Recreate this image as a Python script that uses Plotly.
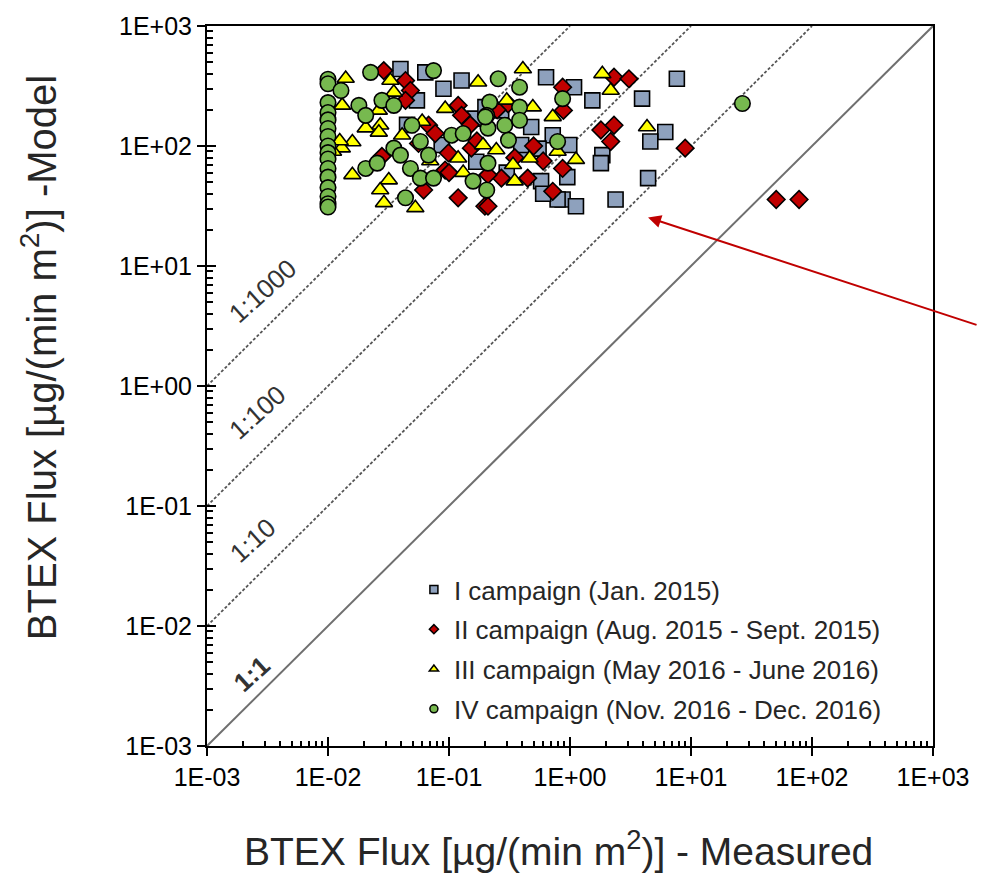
import plotly.graph_objects as go

# ---------------- data ----------------
camp1_x = [0.0397, 0.0637, 0.0543, 0.09, 0.127, 0.164, 0.087, 0.634, 1.08, 1.53,
           3.94, 7.64, 0.478, 1.85, 1.8, 6.13, 4.61, 4.42, 2.38, 0.72,
           0.986, 0.577, 0.869, 1.12, 0.79, 0.421, 0.2, 0.27, 0.168, 0.395,
           0.045, 0.3, 0.55, 0.6, 0.95]
camp1_y = [438, 411, 240, 300, 351, 169, 102, 374, 309, 240,
           248, 363, 144, 84, 72, 131, 109, 54, 35.8, 123,
           102, 51, 35.8, 31.5, 35.8, 90, 211, 198, 74, 102,
           150, 60, 95, 40, 55]

camp2_x = [0.0289, 0.0437, 0.048, 0.0437, 0.0279, 0.0617, 0.0929, 0.119, 0.198, 0.0678,
           0.0769, 0.119, 0.127, 0.153, 0.1, 2.31, 3.07, 0.869, 0.882, 1.8,
           2.31, 2.17, 8.95, 0.869, 0.72, 0.447, 0.271, 0.21, 0.21, 50.6,
           78.2, 0.308, 0.099, 0.056, 0.15, 0.35, 0.17, 0.5, 0.6, 0.25]
camp2_y = [425, 351, 290, 240, 82, 43, 63, 37, 31.5, 149,
           127, 218, 180, 96, 60, 374, 363, 309, 198, 136,
           149, 109, 96, 65, 41.9, 54, 54, 57.5, 31.5, 35.8,
           35.8, 225, 87.5, 105, 150, 80, 110, 100, 75, 200]

camp3_x = [0.014, 0.0328, 0.0131, 0.0263, 0.027, 0.0205, 0.0159, 0.013, 0.0125, 0.0263,
           0.0159, 0.041, 0.0318, 0.027, 0.029, 0.0527, 0.174, 0.119, 0.191, 0.131,
           0.408, 1.85, 2.17, 0.493, 0.72, 4.33, 0.79, 1.12, 0.349, 0.463,
           0.338, 0.246, 0.093, 0.035, 0.06, 0.3, 0.011, 0.07]
camp3_y = [365, 351, 218, 198, 149, 141, 108, 96, 110, 130,
           57.5, 123, 52, 43, 33.6, 30.5, 340, 79, 102, 60,
           438, 399, 290, 211, 175, 144, 90, 77, 51, 79,
           69.7, 92.7, 205, 280, 160, 240, 90, 75]

camp4_x = [0.01, 0.01, 0.01, 0.01, 0.01, 0.01, 0.01, 0.01, 0.01, 0.01,
           0.01, 0.01, 0.01, 0.01, 0.01, 0.01,
           0.0128, 0.018, 0.0205, 0.0279, 0.035, 0.0225, 0.0745, 0.0205, 0.0255, 0.035,
           0.0397, 0.0494, 0.058, 0.0678, 0.0437, 0.048, 0.058, 0.0745, 0.105, 0.131,
           0.217, 0.205, 0.21, 0.21, 0.158, 0.205, 0.255, 0.869, 0.383, 0.2,
           0.383, 0.289, 0.383, 0.79, 0.31, 26.6]
camp4_y = [360, 330, 230, 190, 165, 140, 120, 100, 88, 78,
           65, 55, 45, 38, 33, 31,
           290, 218, 180, 240, 218, 411, 425, 65, 72, 96,
           84, 149, 109, 84, 37, 65, 54, 54, 123, 127,
           232, 180, 141, 72, 51, 43, 363, 248, 309, 175,
           211, 149, 164, 109, 112, 226]

series_names = ["I campaign (Jan. 2015)",
                "II campaign (Aug. 2015 - Sept. 2015)",
                "III campaign (May 2016 - June 2016)",
                "IV campaign (Nov. 2016 - Dec. 2016)"]

line_ratios = [1, 10, 100, 1000]
line_labels = ["<b>1:1</b>", "1:10", "1:100", "1:1000"]

axis_min, axis_max = 1e-3, 1e3
tick_vals = [1e-3, 1e-2, 1e-1, 1e0, 1e1, 1e2, 1e3]
tick_text = ["1E-03", "1E-02", "1E-01", "1E+00", "1E+01", "1E+02", "1E+03"]

x_title = "BTEX Flux [µg/(min m<sup>2</sup>)] - Measured"
y_title = "BTEX Flux [µg/(min m<sup>2</sup>)] -Model"

# ---------------- styles ----------------
FONT = "Arial, Liberation Sans, sans-serif"
styles = [
    dict(symbol="square", color="#8EA1BD", size=15, lsize=8),
    dict(symbol="diamond", color="#C00000", size=13.5, lsize=7),
    dict(symbol="triangle-up", color="#FFFF00", size=15, lsize=8),
    dict(symbol="circle", color="#77B94F", size=15.5, lsize=8),
]
label_pos = [(-2.63, -2.40), (-2.62, -1.28), (-2.58, -0.22), (-2.54, 0.79)]

fig = go.Figure()

# reference lines
for k, r in enumerate(line_ratios):
    fig.add_trace(go.Scatter(
        x=[axis_min, axis_max / r], y=[axis_min * r, axis_max],
        mode="lines", showlegend=False, hoverinfo="skip",
        line=dict(color="#6F6F6F" if r == 1 else "#555555",
                  width=2 if r == 1 else 1.8,
                  dash="solid" if r == 1 else "3px,2px")))

all_x = [camp1_x, camp2_x, camp3_x, camp4_x]
all_y = [camp1_y, camp2_y, camp3_y, camp4_y]
for name, xs, ys, st in zip(series_names, all_x, all_y, styles):
    fig.add_trace(go.Scatter(
        x=xs, y=ys, mode="markers", name=name, showlegend=False,
        marker=dict(symbol=st["symbol"], color=st["color"], size=st["size"],
                    line=dict(color="black", width=1.6))))

# legend entries (small markers)
for i, (name, st) in enumerate(zip(series_names, styles)):
    fig.add_trace(go.Scatter(
        x=[None], y=[None], mode="markers", name=name, legendgroup=str(i),
        xaxis="x2", yaxis="y2",
        marker=dict(symbol=st["symbol"], color=st["color"], size=st["lsize"],
                    line=dict(color="black", width=1.5))))

for (lx, ly), txt in zip(label_pos, line_labels):
    fig.add_annotation(x=lx, y=ly, text=txt, showarrow=False, textangle=-42,
                       font=dict(family=FONT, size=26, color="#333333"))

# red arrow
fig.add_annotation(x=0.645, y=1.405, ax=330, ay=108, axref="pixel", ayref="pixel",
                   text="", showarrow=True, arrowhead=2, arrowsize=1.3,
                   arrowwidth=2, arrowcolor="#C00000")

# axis titles
fig.add_annotation(xref="paper", yref="paper", x=0.484, y=-0.143, text=x_title,
                   showarrow=False, xanchor="center", yanchor="middle",
                   font=dict(family=FONT, size=39, color="#262626"))
fig.add_annotation(xref="paper", yref="paper", x=-0.231, y=0.539, text=y_title,
                   showarrow=False, xanchor="center", yanchor="middle", textangle=-90,
                   font=dict(family=FONT, size=40, color="#262626"))

minor_vals = [m * 10 ** e for e in range(-3, 3) for m in range(2, 10)]

common = dict(type="log", range=[-3, 3], showgrid=False, zeroline=False)
fig.update_layout(
    width=982, height=873,
    margin=dict(l=207, r=44, t=20, b=127),
    plot_bgcolor="white", paper_bgcolor="white",
    font=dict(family=FONT, color="black"),
    xaxis=dict(**common, showline=True, linecolor="black", linewidth=2, mirror=True,
               ticks="outside", ticklen=8, tickwidth=2, tickcolor="black",
               tickmode="array", tickvals=tick_vals, ticktext=tick_text,
               tickfont=dict(size=25, family=FONT, color="black")),
    yaxis=dict(**common, showline=True, linecolor="black", linewidth=2, mirror=True,
               ticks="outside", ticklen=8, tickwidth=2, tickcolor="black",
               tickmode="array", tickvals=tick_vals, ticktext=tick_text,
               tickfont=dict(size=25, family=FONT, color="black")),
    xaxis2=dict(**common, overlaying="x", anchor="y", side="bottom", showline=False,
                ticks="inside", ticklen=9, tickwidth=2, tickcolor="black",
                tickmode="array", tickvals=tick_vals, showticklabels=False,
                minor=dict(ticks="inside", ticklen=5, tickwidth=1.5, tickcolor="black",
                           tickmode="array", tickvals=minor_vals)),
    yaxis2=dict(**common, overlaying="y", anchor="x", side="left", showline=False,
                ticks="inside", ticklen=9, tickwidth=2, tickcolor="black",
                tickmode="array", tickvals=tick_vals, showticklabels=False,
                minor=dict(ticks="inside", ticklen=6, tickwidth=1.5, tickcolor="black",
                           tickmode="array", tickvals=minor_vals)),
    legend=dict(x=0.285, y=0.25, xanchor="left", yanchor="top",
                bgcolor="rgba(0,0,0,0)", tracegroupgap=3,
                font=dict(size=26, family=FONT, color="#262626")),
)

fig.write_html("out.html")
